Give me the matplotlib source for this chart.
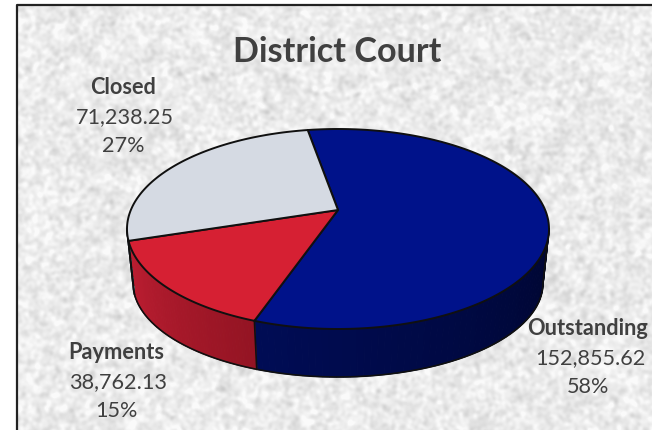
import matplotlib
matplotlib.use('Agg')
import matplotlib.pyplot as plt
from matplotlib.patches import Polygon
import numpy as np

# data
categories = ['Outstanding', 'Payments', 'Closed']
values = [152855.62, 38762.13, 71238.25]
percent_labels = ['58%', '15%', '27%']
title = 'District Court'

plt.rcParams['font.family'] = ['Lato', 'DejaVu Sans']

TOP_COLORS = ['#00128A', '#D62033', '#D5DAE3']
WALL_LEFT = [np.array([0, 12, 85]), np.array([190, 30, 50]), np.array([170, 175, 185])]
WALL_RIGHT = [np.array([0, 6, 50]), np.array([148, 20, 35]), np.array([170, 175, 185])]
TEXT_COLOR = '#404040'
LABEL_POS = [(588, 328.5), (116, 352.5), (123, 87.5)]

# pie geometry, in pixels
CX, CY, RX, RY = 338, 229, 211, 100
BCX, BCY, BRX, BRY = 338, 283, 205, 94
P = 0.19          # perspective shift of the apex
START = 100.0

fig = plt.figure(figsize=(6.52, 4.30), dpi=100)
ax = fig.add_axes([0, 0, 1, 1])
ax.set_xlim(0, 652)
ax.set_ylim(430, 0)
ax.axis('off')

# paper texture behind the chart
rng = np.random.RandomState(3)
noise = rng.normal(size=(430, 652))
kx = np.fft.fftfreq(652)[None, :]
ky = np.fft.fftfreq(430)[:, None]
fine = np.fft.ifft2(np.fft.fft2(noise) * np.exp(-(kx**2 + ky**2) * 2 * (np.pi * 1.8)**2)).real
coarse = np.fft.ifft2(np.fft.fft2(noise[::-1]) * np.exp(-(kx**2 + ky**2) * 2 * (np.pi * 6)**2)).real
tex = 235 + 7 * fine / fine.std() + 2.5 * coarse / coarse.std()
tex = np.clip(tex, 195, 250) / 255
ax.imshow(tex[6:, 17:], cmap='gray', vmin=0, vmax=1, extent=[17, 652, 430, 6],
          aspect='auto', zorder=0, interpolation='bilinear')
ax.set_xlim(0, 652)
ax.set_ylim(430, 0)
ax.plot([17, 17, 652], [430, 5, 5], color='#222222', lw=1.6, zorder=1)


def project(theta, cx, cy, rx, ry):
    # circle angle (deg) -> point on the tilted ellipse, apex pushed back by P
    t = np.radians(theta)
    c, s = np.cos(t), np.sin(t)
    d = 1 + P * s
    u = c * np.sqrt(1 - P**2) / d
    v = (s + P) / d
    return cx + rx * u, cy - ry * v


def ellipse_pt(u_phi, cx, cy, rx, ry):
    t = np.radians(u_phi)
    return cx + rx * np.cos(t), cy - ry * np.sin(t)


fracs = np.array(values) / np.sum(values)
edges = START - np.concatenate([[0], np.cumsum(fracs)]) * 360

# side wall, only the front half is seen
for i in range(3):
    th = np.linspace(edges[i], edges[i + 1], 200)
    x0, y0 = project(th, CX, CY, RX, RY)
    phi = np.degrees(np.arctan2(-(y0 - CY) / RY, (x0 - CX) / RX)) % 360
    keep = (phi >= 180) & (phi <= 360)
    if keep.sum() < 2:
        continue
    phi = np.sort(phi[keep])
    strips = np.linspace(phi[0], phi[-1], 60)
    for a, b, f in zip(strips[:-1], strips[1:], np.linspace(0, 1, 59)):
        seg = np.linspace(a, b, 4)
        xt, yt = ellipse_pt(seg, CX, CY, RX, RY)
        xb, yb = ellipse_pt(seg, BCX, BCY, BRX, BRY)
        col = (WALL_LEFT[i] * (1 - f) + WALL_RIGHT[i] * f) / 255
        ax.add_patch(Polygon(np.column_stack([np.r_[xt, xb[::-1]], np.r_[yt, yb[::-1]]]),
                             closed=True, fc=col, ec=col, lw=0.8, zorder=2))
    # wall edge between slices
    xt, yt = ellipse_pt(phi[0], CX, CY, RX, RY)
    xb, yb = ellipse_pt(phi[0], BCX, BCY, BRX, BRY)
    ax.plot([xt, xb], [yt, yb], color='#101010', lw=1.2, zorder=3)

# outline of the wall
phi = np.linspace(180, 360, 300)
xt, yt = ellipse_pt(phi, CX, CY, RX, RY)
xb, yb = ellipse_pt(phi, BCX, BCY, BRX, BRY)
ax.plot(np.r_[xt[0], xb, xt[-1]], np.r_[yt[0], yb, yt[-1]], color='#101010', lw=1.2, zorder=3)

# top face
apex = (CX, CY - RY * P)
for i in range(3):
    th = np.linspace(edges[i], edges[i + 1], 200)
    x0, y0 = project(th, CX, CY, RX, RY)
    pts = np.column_stack([np.r_[apex[0], x0], np.r_[apex[1], y0]])
    ax.add_patch(Polygon(pts, closed=True, fc=TOP_COLORS[i], ec='#101010', lw=1.4,
                         joinstyle='round', zorder=4))

# labels
for name, val, pct, (lx, ly) in zip(categories, values, percent_labels, LABEL_POS):
    ax.text(lx, ly, name, ha='center', va='center', fontsize=15.7, fontweight='bold',
            color=TEXT_COLOR, zorder=5)
    ax.text(lx + 2, ly + 29.5, f'{val:,.2f}', ha='center', va='center', fontsize=15.6,
            color=TEXT_COLOR, zorder=5)
    ax.text(lx, ly + 58.5, pct, ha='center', va='center', fontsize=15.6,
            color=TEXT_COLOR, zorder=5)

ax.text(337, 51.5, title, ha='center', va='center', fontsize=24.6, fontweight='bold',
        color=TEXT_COLOR, zorder=5)

fig.savefig('out.png', dpi=100, facecolor='white')
